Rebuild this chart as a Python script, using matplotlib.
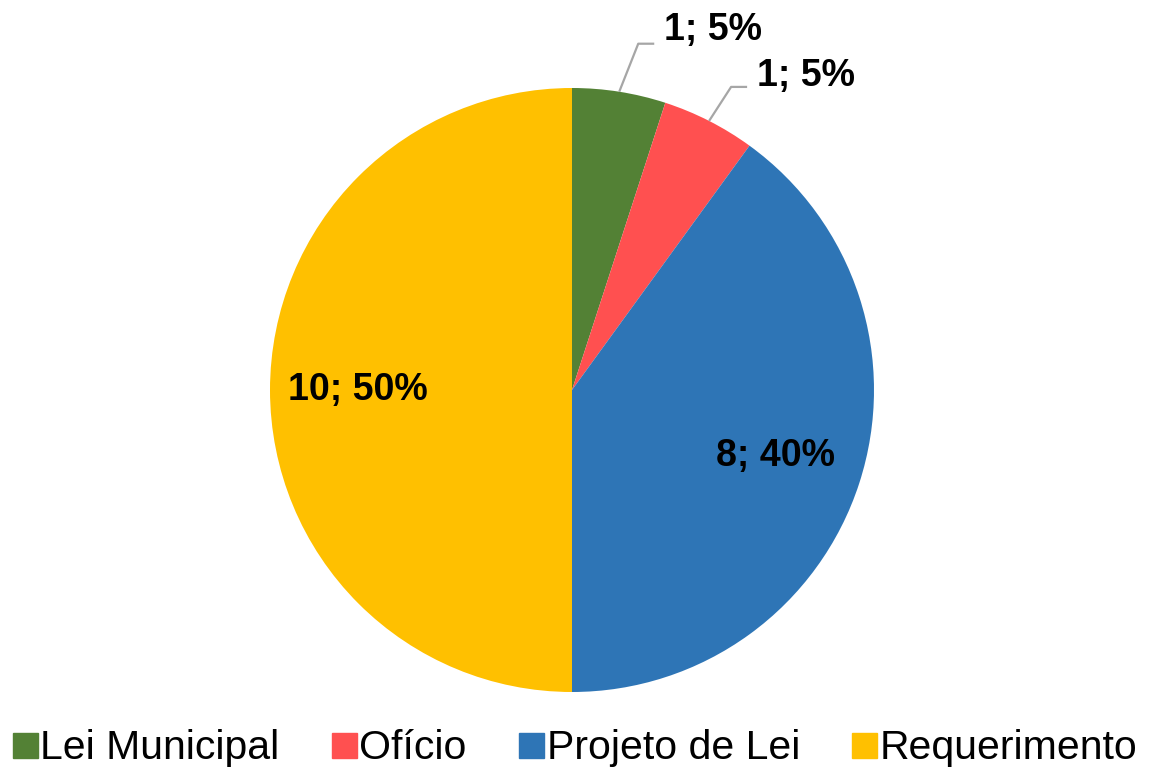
import numpy as np
import matplotlib
matplotlib.use("Agg")
import matplotlib.pyplot as plt
from matplotlib.lines import Line2D

plt.rcParams['font.family'] = ['Liberation Sans', 'DejaVu Sans']

categories = ["Lei Municipal", "Ofício", "Projeto de Lei", "Requerimento"]
counts = [1, 1, 8, 10]
colors = ["#538135", "#FF5050", "#2E75B6", "#FFC000"]

W, H = 1151, 767
fig = plt.figure(figsize=(W / 100, H / 100), dpi=100)
ax = fig.add_axes([0, 0, 1, 1])

cx, cy, R = 572, H - 390, 302
total = sum(counts)
wedges, _ = ax.pie(counts, colors=colors, startangle=90, counterclock=False,
                   center=(cx, cy), radius=R, frame=True)
ax.set_xlim(0, W)
ax.set_ylim(0, H)
ax.set_aspect("equal")
ax.axis("off")

# leader elbow offsets (px) for the small outside labels
elbows = iter([(19, 48, 14), (22, 34, 11)])

for w, n in zip(wedges, counts):
    pct = round(100 * n / total)
    label = f"{n}; {pct}%"
    mid = np.deg2rad((w.theta1 + w.theta2) / 2)
    c, s = np.cos(mid), np.sin(mid)
    if pct >= 20:
        ax.text(cx + 0.71 * R * c, cy + 0.71 * R * s, label, ha="center",
                va="center", fontsize=27, fontweight="bold")
    else:
        dx, dy, up = next(elbows)
        p0 = (cx + R * c, cy + R * s)
        p1 = (p0[0] + dx, p0[1] + dy)
        p2 = (p1[0] + 16, p1[1])
        ax.plot([p0[0], p1[0], p2[0]], [p0[1], p1[1], p2[1]],
                color="#A6A6A6", lw=1.6, solid_capstyle="butt")
        ax.text(p2[0] + 10, p2[1] + up, label, ha="left", va="center",
                fontsize=27, fontweight="bold")

handles = [Line2D([], [], marker="s", ls="", markersize=18,
                  markerfacecolor=col, markeredgecolor=col) for col in colors]
ax.legend(handles, categories, loc="lower center", bbox_to_anchor=(0.5, -0.032),
          bbox_transform=fig.transFigure, ncol=4, frameon=False, fontsize=29.5,
          handlelength=0.55, handletextpad=0.1, columnspacing=1.3,
          borderaxespad=0.2)

fig.savefig("out.png", dpi=100)
